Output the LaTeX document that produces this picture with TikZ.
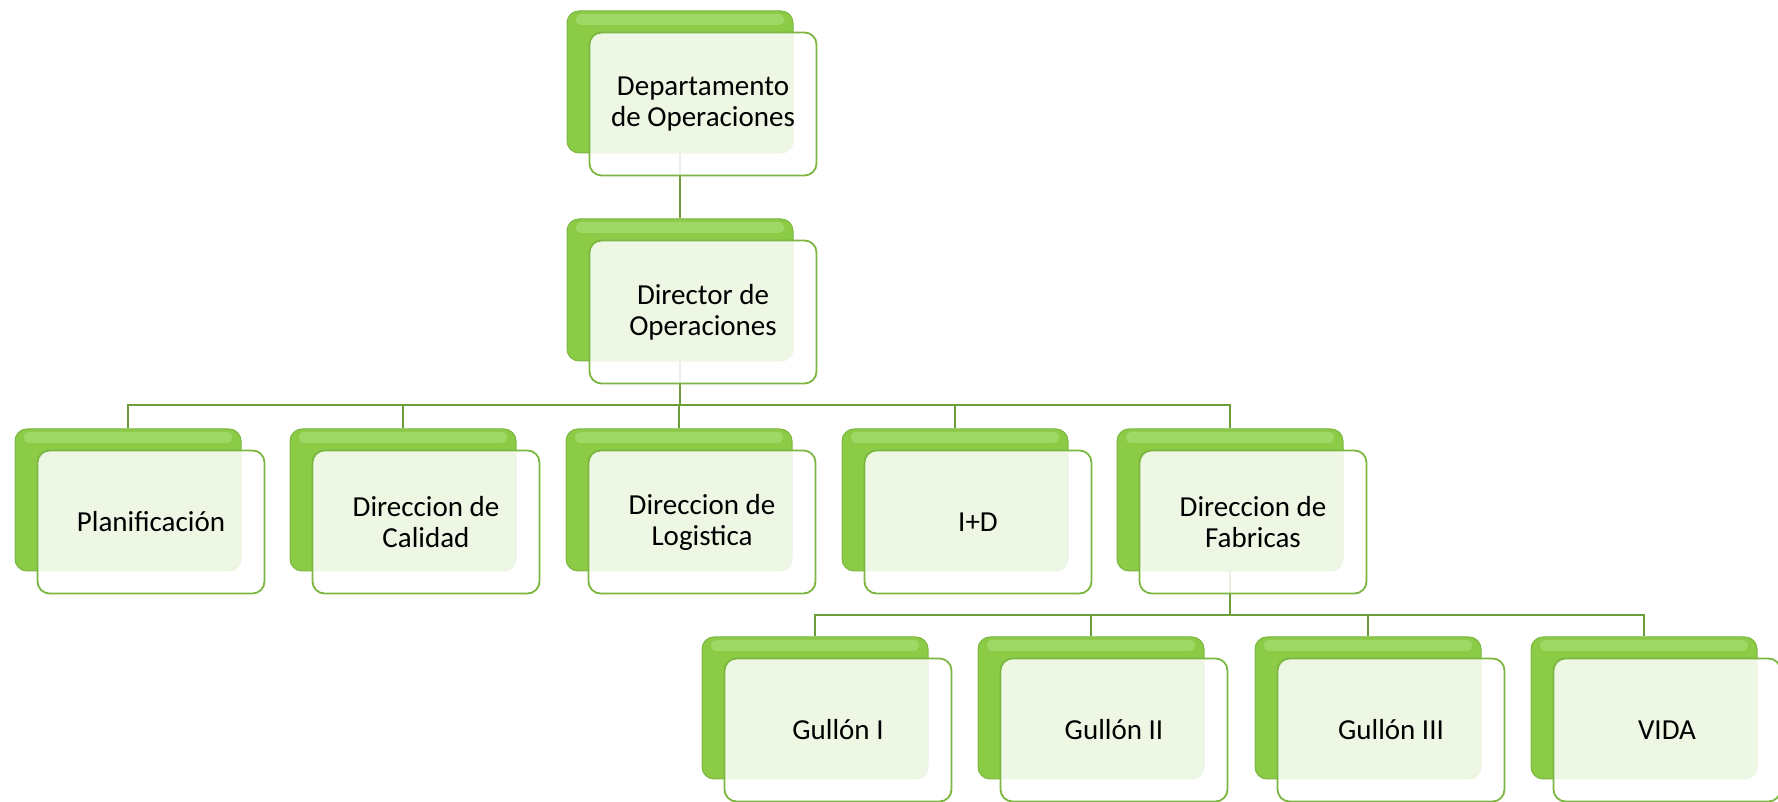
\documentclass[tikz,border=0pt]{standalone}
\usepackage{fontspec}
\setmainfont{Carlito}
\usetikzlibrary{positioning}

\definecolor{backgreen}{HTML}{8CCB46}
\definecolor{glossgreen}{HTML}{A0D865}
\definecolor{edgegreen}{HTML}{7AB640}
\definecolor{linegreen}{HTML}{6C9E3A}

\begin{document}
\begin{tikzpicture}[x=1pt,y=1pt,
    backbox/.style={rectangle, rounded corners=12pt, minimum width=226pt, minimum height=142pt,
      fill=backgreen, draw=edgegreen, line width=1pt, anchor=center,
      path picture={\fill[glossgreen, rounded corners=5pt]
        ([xshift=9pt,yshift=-3pt]path picture bounding box.north west) rectangle
        ([xshift=-9pt,yshift=-14pt]path picture bounding box.north east);}},
    frontbox/.style={rectangle, rounded corners=12pt, minimum width=227pt, minimum height=143pt,
      fill=white, fill opacity=0.86, text opacity=1, draw=edgegreen, line width=1.8pt,
      align=center, font=\fontsize{29}{31}\selectfont, anchor=center},
    link/.style={draw=linegreen, line width=2pt}]
    \useasboundingbox (0,0) rectangle (1778,802);
    \node (depto-b) [backbox] at (680, 720) {};
    \node (dir-b) [backbox] at (680, 512) {};
    \node (plan-b) [backbox] at (128, 302) {};
    \node (cal-b) [backbox] at (403, 302) {};
    \node (log-b) [backbox] at (679, 302) {};
    \node (id-b) [backbox] at (955, 302) {};
    \node (fab-b) [backbox] at (1230, 302) {};
    \node (g1-b) [backbox] at (815, 94) {};
    \node (g2-b) [backbox] at (1091, 94) {};
    \node (g3-b) [backbox] at (1368, 94) {};
    \node (vida-b) [backbox] at (1644, 94) {};
    \draw[link] (depto-b) -- (dir-b);
    \draw[link] (dir-b.south) -- ++(0,-44) coordinate (bus1);
    \draw[link] (bus1) -| (plan-b.north);
    \draw[link] (bus1) -| (cal-b.north);
    \draw[link] (bus1) -| (log-b.north);
    \draw[link] (bus1) -| (id-b.north);
    \draw[link] (bus1) -| (fab-b.north);
    \draw[link] (fab-b.south) -- ++(0,-44) coordinate (bus2);
    \draw[link] (bus2) -| (g1-b.north);
    \draw[link] (bus2) -| (g2-b.north);
    \draw[link] (bus2) -| (g3-b.north);
    \draw[link] (bus2) -| (vida-b.north);
    \node (depto) [frontbox] at (703, 698) {Departamento\\de Operaciones};
    \node (dir) [frontbox] at (703, 490) {Director de\\Operaciones};
    \node (plan) [frontbox] at (151, 280) {Planificación};
    \node (cal) [frontbox] at (426, 280) {Direccion de\\Calidad};
    \node (log) [frontbox] at (702, 280) {Direccion de\\Logistica};
    \node (id) [frontbox] at (978, 280) {I+D};
    \node (fab) [frontbox] at (1253, 280) {Direccion de\\Fabricas};
    \node (g1) [frontbox] at (838, 72) {Gullón I};
    \node (g2) [frontbox] at (1114, 72) {Gullón II};
    \node (g3) [frontbox] at (1391, 72) {Gullón III};
    \node (vida) [frontbox] at (1667, 72) {VIDA};
\end{tikzpicture}
\end{document}
